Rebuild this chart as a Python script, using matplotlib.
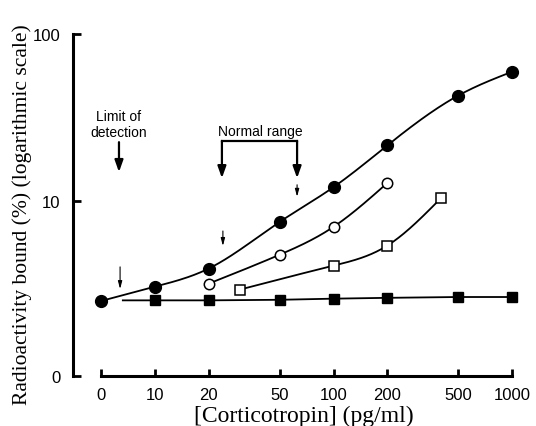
import numpy as np
import matplotlib
matplotlib.use('Agg')
import matplotlib.pyplot as plt

# Data. Concentration 0 is drawn at ZERO_POS on the log axis.
ZERO_POS = 5
tick_values = [0, 10, 20, 50, 100, 200, 500, 1000]
tick_labels = ['0', '10', '20', '50', '100', '200', '500', '1000']

std_x = [0, 10, 20, 50, 100, 200, 500, 1000]
std_y = [2.52, 3.07, 3.94, 7.5, 12.1, 21.5, 42.8, 59.4]

open_circle_x = [20, 50, 100, 200]
open_circle_y = [3.2, 4.77, 7.0, 12.8]

open_square_x = [30, 100, 200, 400]
open_square_y = [2.95, 4.1, 5.4, 10.4]

filled_square_x = [10, 20, 50, 100, 200, 500, 1000]
filled_square_y = [2.54, 2.54, 2.56, 2.6, 2.63, 2.66, 2.66]
filled_square_line_start = 6.6

Y_ZERO = 0.895


def pos(x):
    return [ZERO_POS if v == 0 else v for v in x]


def smooth(x, y, n=200):
    """Natural cubic spline through the points, in log-log space."""
    lx = np.log10(np.asarray(x, float))
    ly = np.log10(np.asarray(y, float))
    k = len(lx)
    h = np.diff(lx)
    A = np.zeros((k, k))
    b = np.zeros(k)
    A[0, 0] = A[-1, -1] = 1
    for i in range(1, k - 1):
        A[i, i - 1] = h[i - 1]
        A[i, i] = 2 * (h[i - 1] + h[i])
        A[i, i + 1] = h[i]
        b[i] = 3 * ((ly[i + 1] - ly[i]) / h[i] - (ly[i] - ly[i - 1]) / h[i - 1])
    c = np.linalg.solve(A, b)
    xs = np.linspace(lx[0], lx[-1], n)
    idx = np.clip(np.searchsorted(lx, xs) - 1, 0, k - 2)
    d = xs - lx[idx]
    hi = h[idx]
    bb = (ly[idx + 1] - ly[idx]) / hi - hi * (2 * c[idx] + c[idx + 1]) / 3
    dd = (c[idx + 1] - c[idx]) / (3 * hi)
    ys = ly[idx] + bb * d + c[idx] * d ** 2 + dd * d ** 3
    return 10 ** xs, 10 ** ys


plt.rcParams['font.family'] = ['Liberation Sans', 'DejaVu Sans']

fig = plt.figure(figsize=(5.36, 4.27), dpi=100)
ax = fig.add_axes([73 / 536, 50 / 427, 447 / 536, 342 / 427])
ax.set_xscale('log')
ax.set_yscale('log')
ax.set_xlim(3.47, 1109)
ax.set_ylim(Y_ZERO, 100)

# curves
lw = 1.3
cx, cy = smooth(pos(std_x), std_y)
ax.plot(cx, cy, color='black', lw=lw)
ax.plot(pos(std_x), std_y, 'o', color='black', ms=8.5)

cx, cy = smooth(open_circle_x, open_circle_y)
ax.plot(cx, cy, color='black', lw=lw)
ax.plot(open_circle_x, open_circle_y, 'o', mfc='white', mec='black', mew=1.1, ms=7.5)

cx, cy = smooth(open_square_x, open_square_y)
ax.plot(cx, cy, color='black', lw=lw)
ax.plot(open_square_x, open_square_y, 's', mfc='white', mec='black', mew=1.1, ms=6.5)

ax.plot([filled_square_line_start] + filled_square_x,
        [filled_square_y[0]] + filled_square_y, color='black', lw=lw)
ax.plot(filled_square_x, filled_square_y, 's', color='black', ms=7)

# annotations
thick = dict(arrowstyle='-|>,head_length=0.7,head_width=0.25', color='black',
             lw=1.6, shrinkA=0, shrinkB=0)
thin = dict(arrowstyle='-|>,head_length=0.45,head_width=0.12', color='black',
            lw=0.8, shrinkA=0, shrinkB=0)

ax.text(6.28, 28.9, 'Limit of\ndetection', ha='center', va='center', fontsize=10,
        linespacing=1.15)
ax.annotate('', xy=(6.28, 14.9), xytext=(6.28, 22.5), arrowprops=thick)

ax.text(38.7, 26.3, 'Normal range', ha='center', va='center', fontsize=10)
ax.plot([23.7, 62.5], [22.9, 22.9], color='black', lw=1.6, solid_capstyle='projecting')
ax.annotate('', xy=(23.7, 13.7), xytext=(23.7, 22.9), arrowprops=thick)
ax.annotate('', xy=(62.5, 13.7), xytext=(62.5, 22.9), arrowprops=thick)

ax.annotate('', xy=(6.37, 2.97), xytext=(6.37, 4.03), arrowprops=thin)
ax.annotate('', xy=(24.0, 5.38), xytext=(24.0, 6.61), arrowprops=thin)
ax.annotate('', xy=(62.5, 10.6), xytext=(62.5, 12.5), arrowprops=thin)

# axes styling
for s in ('top', 'right'):
    ax.spines[s].set_visible(False)
ax.spines['left'].set_linewidth(2.2)
ax.spines['bottom'].set_linewidth(2.2)
ax.spines['bottom'].set_bounds(ZERO_POS, 1000)

ax.xaxis.set_minor_locator(matplotlib.ticker.NullLocator())
ax.yaxis.set_minor_locator(matplotlib.ticker.NullLocator())
ax.set_xticks(pos(tick_values))
ax.set_xticklabels(tick_labels)
ax.set_yticks([Y_ZERO, 10, 100])
ax.set_yticklabels(['0', '10', '100'])
ax.tick_params(axis='x', direction='in', length=5, width=2, pad=8, labelsize=12)
ax.tick_params(axis='y', direction='in', length=6, width=2, pad=9, labelsize=12)

fig.text(22 / 536, 1 - 215 / 427, 'Radioactivity bound (%) (logarithmic scale)',
         rotation=90, ha='center', va='center', fontsize=15.5,
         family=['Liberation Serif', 'DejaVu Serif'])
fig.text(304 / 536, 1 - 416 / 427, '[Corticotropin] (pg/ml)',
         ha='center', va='center', fontsize=17,
         family=['Liberation Serif', 'DejaVu Serif'])

fig.savefig('out.png', dpi=100)
